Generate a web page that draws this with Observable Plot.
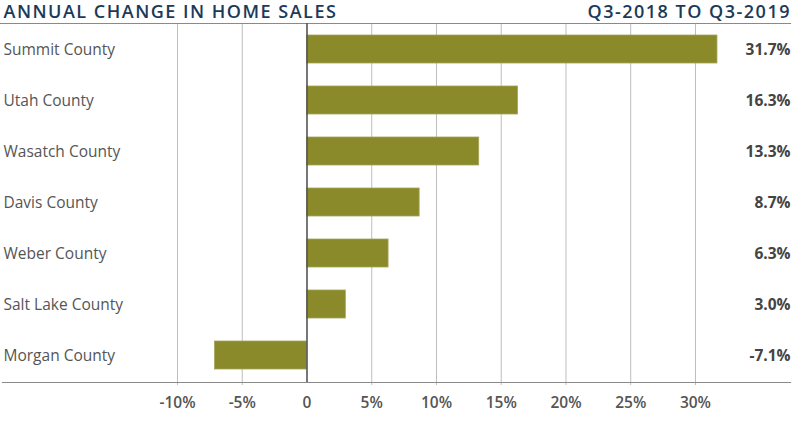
<!DOCTYPE html>
<html>
<head>
<meta charset="utf-8">
<script src="https://cdn.jsdelivr.net/npm/d3@7"></script>
<script src="https://cdn.jsdelivr.net/npm/@observablehq/plot@0.6"></script>
<style>
  html, body { margin: 0; padding: 0; background: #fff; }
  #chart svg { display: block; }
</style>
</head>
<body>
<div id="chart"></div>
<script>
const counties = ["Summit County", "Utah County", "Wasatch County", "Davis County", "Weber County", "Salt Lake County", "Morgan County"];
const changes = [31.7, 16.3, 13.3, 8.7, 6.3, 3.0, -7.1];
const valueLabels = ["31.7%", "16.3%", "13.3%", "8.7%", "6.3%", "3.0%", "-7.1%"];
const tickValues = [-10, -5, 0, 5, 10, 15, 20, 25, 30];
const tickLabels = ["-10%", "-5%", "0", "5%", "10%", "15%", "20%", "25%", "30%"];
const titleLeft = "ANNUAL CHANGE IN HOME SALES";
const titleRight = "Q3-2018 TO Q3-2019";

const data = counties.map((c, i) => ({county: c, value: changes[i], label: valueLabels[i]}));
const ticks = tickValues.map((v, i) => ({v, label: tickLabels[i]}));

const font = "'Open Sans', 'Lato', sans-serif";

const chart = Plot.plot({
  width: 800,
  height: 427,
  marginLeft: 0,
  marginRight: 10,
  marginTop: 23,
  marginBottom: 45,
  style: {fontFamily: font, background: "#fff", overflow: "visible"},
  x: {domain: [-23.67, 37.34], axis: null},
  y: {domain: counties, paddingInner: 0.45, paddingOuter: 0.225, axis: null},
  marks: [
    Plot.ruleX(tickValues.filter(d => d !== 0), {stroke: "#bdbdbd", strokeWidth: 1, insetBottom: -3}),
    Plot.frame({anchor: "top", stroke: "#8a8a8a", strokeWidth: 1.2}),
    Plot.frame({anchor: "bottom", stroke: "#8a8a8a", strokeWidth: 1.2, insetLeft: 2}),
    Plot.barX(data, {y: "county", x: "value", fill: "#8a8a2a", stroke: "#a4a45a", strokeWidth: 0.8}),
    Plot.ruleX([0], {stroke: "#555", strokeWidth: 1.6}),
    Plot.text(data, {y: "county", text: "county", frameAnchor: "left", textAnchor: "start", dx: 3, dy: 1, fontSize: 15.5, fill: "#555"}),
    Plot.text(data, {y: "county", text: "label", frameAnchor: "right", textAnchor: "end", dy: 1, fontSize: 15.5, fontWeight: 700, fill: "#444"}),
    Plot.text(ticks, {x: "v", text: "label", frameAnchor: "bottom", dy: 21, lineAnchor: "middle", fontSize: 15.5, fontWeight: 600, fill: "#555"}),
    Plot.text([titleLeft], {frameAnchor: "top-left", textAnchor: "start", lineAnchor: "middle", dx: 3, dy: -11.5, fontSize: 18, fontWeight: 600, fill: "#1b3a5a"}),
    Plot.text([titleRight], {frameAnchor: "top-right", textAnchor: "end", lineAnchor: "middle", dx: 0.5, dy: -11.5, fontSize: 18, fontWeight: 600, fill: "#1b3a5a"})
  ]
});
// widen the title lettering like the reference
d3.select(chart).selectAll("text").each(function() {
  const t = this.textContent;
  if (t === titleLeft || t === titleRight) {
    this.style.letterSpacing = "1.5px";
  }
});
document.getElementById("chart").appendChild(chart);
</script>
</body>
</html>
